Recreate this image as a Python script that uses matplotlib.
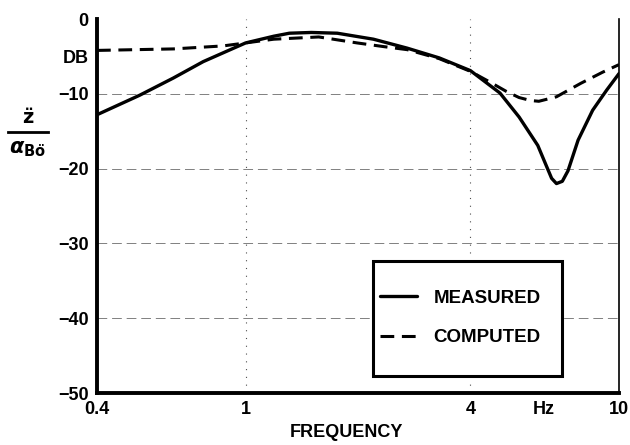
import matplotlib
matplotlib.use("Agg")
import matplotlib.pyplot as plt
from matplotlib.lines import Line2D
from matplotlib.patches import Rectangle

plt.rcParams['font.family'] = ['Liberation Sans', 'DejaVu Sans']
plt.rcParams['font.weight'] = 'bold'

meas_f = [0.4, 0.52, 0.64, 0.77, 0.91, 1.0, 1.19, 1.31, 1.5, 1.76, 2.2, 2.71,
          3.3, 4.0, 4.8, 5.4, 6.06, 6.46, 6.6, 6.8, 7.05, 7.3, 7.77, 8.5, 9.27, 10.0]
meas_db = [-12.8, -10.2, -7.9, -5.7, -4.1, -3.2, -2.3, -1.9, -1.8, -1.9, -2.7, -3.9,
           -5.2, -6.9, -9.9, -13.1, -16.9, -20.2, -21.3, -22.0, -21.7, -20.3, -16.2, -12.2, -9.5, -7.3]

# computed response
comp_f = [0.4, 0.64, 0.87, 1.0, 1.19, 1.57, 1.99, 2.35, 2.71, 3.3, 4.0, 4.5,
          5.0, 5.4, 5.8, 6.1, 6.8, 7.9, 9.05, 10.0]
comp_db = [-4.2, -4.0, -3.6, -3.2, -2.7, -2.4, -3.2, -3.7, -4.1, -5.3, -7.0, -8.4,
           -9.7, -10.5, -10.9, -11.0, -10.4, -8.6, -7.1, -6.1]

xticks = [0.4, 1, 4, 6.3, 10]
xticklabels = ['0.4', '1', '4', 'Hz', '10']
yticks = [0, -5, -10, -20, -30, -40, -50]
yticklabels = ['0', 'DB', '\u221210', '\u221220', '\u221230', '\u221240', '\u221250']

fig = plt.figure(figsize=(6.3, 4.45), dpi=100)
ax = fig.add_axes([97/630, 1 - 393/445, 522/630, 374/445])

ax.plot(meas_f, meas_db, color='black', lw=2.4, solid_capstyle='round',
        solid_joinstyle='round', label='MEASURED')
ax.plot(comp_f, comp_db, color='black', lw=2.2, ls=(0, (4.5, 2.5)), label='COMPUTED')

ax.set_xscale('log')
ax.set_xlim(0.4, 10)
ax.set_ylim(-50, 0)
ax.set_xticks(xticks)
ax.set_xticklabels(xticklabels)
ax.minorticks_off()
ax.set_yticks(yticks)
ax.set_yticklabels(yticklabels)
ax.tick_params(length=0, labelsize=13, pad=6)

for y in [-10, -20, -30, -40]:
    ax.axhline(y, color='0.5', lw=0.7, ls=(0, (10, 5)), zorder=0)
for x in [1, 4]:
    ax.axvline(x, color='0.3', lw=0.8, ls=(0, (1, 6)), zorder=0)

ax.spines['top'].set_visible(False)
ax.spines['left'].set_linewidth(2.8)
ax.spines['bottom'].set_linewidth(2.8)
ax.spines['right'].set_linewidth(1.2)

ax.set_xlabel('FREQUENCY', fontsize=13, fontweight='bold')
ax.xaxis.set_label_coords((346 - 97) / 522, -(424 - 393) / 374)

# legend box
ax.add_patch(Rectangle((0.529, 0.045), 0.362, 0.308, transform=ax.transAxes,
                       facecolor='white', edgecolor='black', lw=2.2, zorder=5))
leg = ax.legend(loc='center left', bbox_to_anchor=(0.542, 0.2005), frameon=False,
                prop={'weight': 'bold', 'size': 13.5}, handlelength=2.0,
                labelspacing=1.2, borderpad=0, borderaxespad=0, handletextpad=0.85)
leg.set_zorder(6)

# y-axis quantity as a fraction
fig.text(28/630, 1 - 118/445, r'$\ddot{\mathbf{z}}$', fontsize=14, ha='center', va='center')
fig.add_artist(Line2D([8/630, 48/630], [1 - 132/445, 1 - 132/445], color='black', lw=2))
fig.text(27/630, 1 - 149/445, r'$\alpha_{\mathbf{B\ddot{o}}}$', fontsize=15, ha='center', va='center')

fig.savefig('out.png', dpi=100)
